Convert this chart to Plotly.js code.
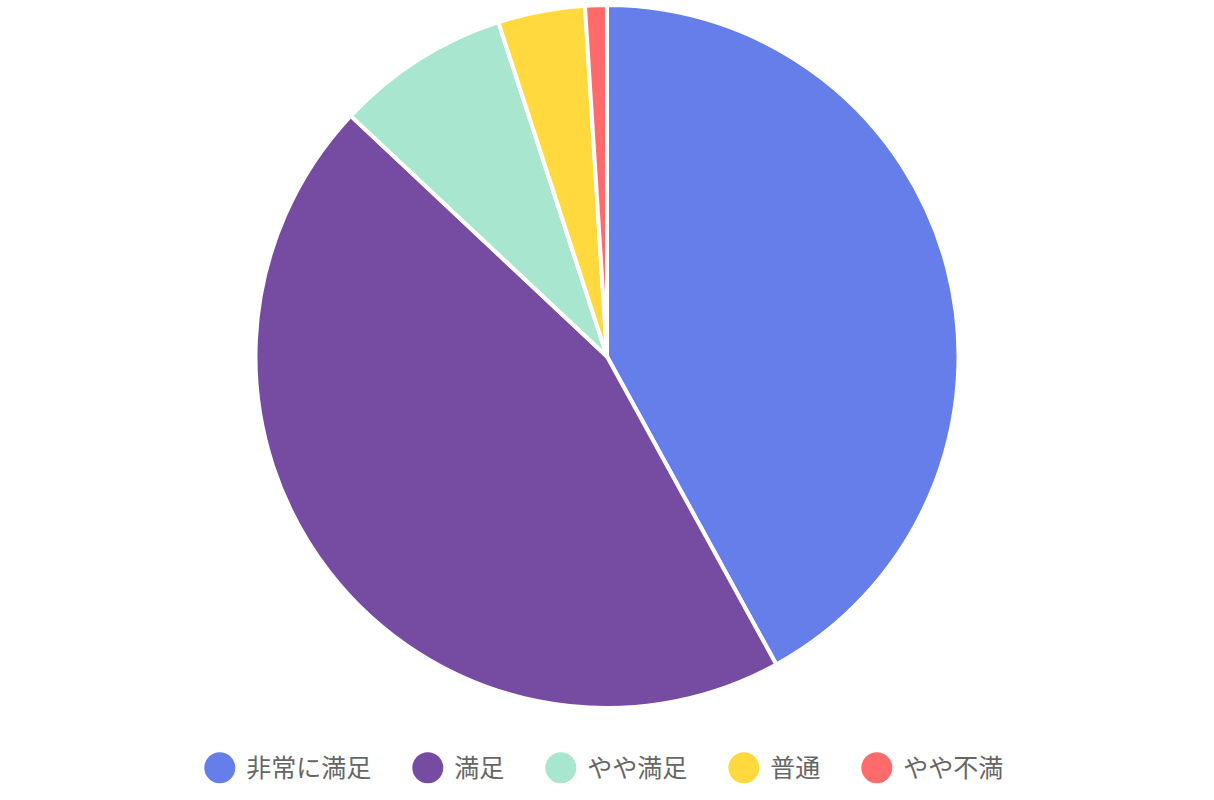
<!DOCTYPE html>
<html>
<head>
<meta charset="utf-8">
<script src="https://cdn.plot.ly/plotly-3.0.1.min.js"></script>
<style>html,body{margin:0;padding:0;background:#fff;}#chart{width:1214px;height:800px;}</style>
</head>
<body>
<div id="chart"></div>
<script>
const categories = ["非常に満足", "満足", "やや満足", "普通", "やや不満"];
const values = [42, 45, 8, 4, 1];
const colors = ["#667eea", "#764ba2", "#a8e6cf", "#ffd93d", "#ff6b6b"];

const data = [{
  type: "pie",
  labels: categories,
  values: values,
  sort: false,
  direction: "clockwise",
  rotation: 0,
  textinfo: "none",
  hoverinfo: "label+value+percent",
  marker: { colors: colors, line: { color: "#ffffff", width: 4 } },
  showlegend: true
}];

const layout = {
  width: 1214,
  height: 800,
  margin: { l: 0, r: 0, t: 5, b: 92 },
  paper_bgcolor: "#ffffff",
  plot_bgcolor: "#ffffff",
  font: { family: "'Noto Sans CJK JP', 'Noto Sans', sans-serif", color: "#666666" },
  showlegend: true,
  legend: {
    orientation: "h",
    x: 0.485, xanchor: "center",
    y: -0.0853, yanchor: "middle",
    font: { size: 25, color: "#666666", family: "'Noto Sans CJK JP', sans-serif" },
    itemwidth: 68,
    traceorder: "normal"
  }
};

Plotly.newPlot("chart", data, layout, { displayModeBar: false, staticPlot: true }).then(function (gd) {
  const r = 15.5;
  gd.querySelectorAll(".legend .traces").forEach(function (g) {
    const t = g.querySelector("text.legendtext");
    const tx = t ? parseFloat(t.getAttribute("x")) : 78;
    g.querySelectorAll(".legendpoints path").forEach(function (p) {
      p.setAttribute("d", "M" + r + ",0A" + r + "," + r + " 0 1,1 0,-" + r + "A" + r + "," + r + " 0 0,1 " + r + ",0Z");
      p.setAttribute("transform", "translate(" + (tx - 11 - r) + ",0)");
      p.style.strokeWidth = "0px";
    });
  });
});
</script>
</body>
</html>
